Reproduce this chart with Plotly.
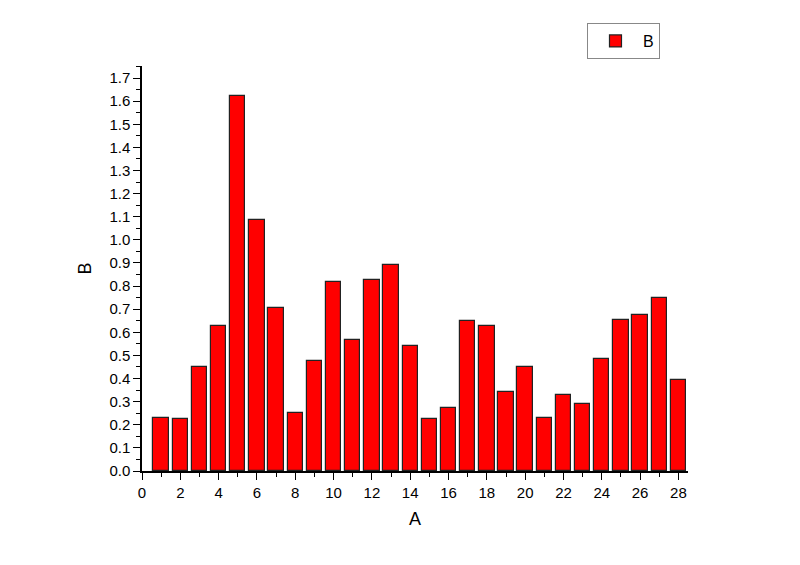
import plotly.graph_objects as go

A = list(range(1, 29))
B = [0.229, 0.223, 0.451, 0.627, 1.621, 1.086, 0.706, 0.253, 0.475, 0.816,
     0.566, 0.825, 0.893, 0.539, 0.227, 0.272, 0.649, 0.626, 0.343, 0.449,
     0.229, 0.330, 0.288, 0.484, 0.652, 0.677, 0.748, 0.395]
x_ticks = list(range(0, 29, 2))
y_ticks = [round(i * 0.1, 1) for i in range(18)]

fig = go.Figure(go.Bar(
    x=A, y=B, name="B", width=0.8,
    marker=dict(color="#ff0000", line=dict(color="#222222", width=1.2)),
    showlegend=True,
))

font = dict(family="Liberation Sans, Arial, sans-serif", color="black")
fig.update_layout(
    width=800, height=565,
    margin=dict(l=134, r=120, t=58, b=102, autoexpand=False),
    plot_bgcolor="white", paper_bgcolor="white",
    font=dict(size=15, **font),
    bargap=0,
    legend=dict(x=0.815, y=1.106, xanchor="left", yanchor="top",
                bordercolor="#888888", borderwidth=1, bgcolor="white",
                font=dict(size=16, **font), itemwidth=45),
    xaxis=dict(
        range=[0, 28.5], tickvals=x_ticks, ticktext=[str(v) for v in x_ticks],
        ticks="outside", ticklen=7, tickwidth=1.3, tickcolor="black",
        showline=True, linecolor="black", linewidth=1.5, showgrid=False,
        zeroline=False,
        minor=dict(dtick=1, tick0=0, ticks="outside", ticklen=4, tickcolor="black", tickwidth=1.3),
        title=dict(text="A", font=dict(size=18, **font), standoff=13),
    ),
    yaxis=dict(
        range=[0, 1.752], tickvals=y_ticks, ticktext=[f"{v:.1f}" for v in y_ticks],
        ticks="outside", ticklen=7, tickwidth=1.3, tickcolor="black",
        showline=True, linecolor="black", linewidth=1.5, showgrid=False,
        zeroline=False,
        minor=dict(dtick=0.05, tick0=0, ticks="outside", ticklen=4, tickcolor="black", tickwidth=1.3),
        title=dict(text="B", font=dict(size=18, **font), standoff=13),
    ),
)

fig.write_html("out.html")
